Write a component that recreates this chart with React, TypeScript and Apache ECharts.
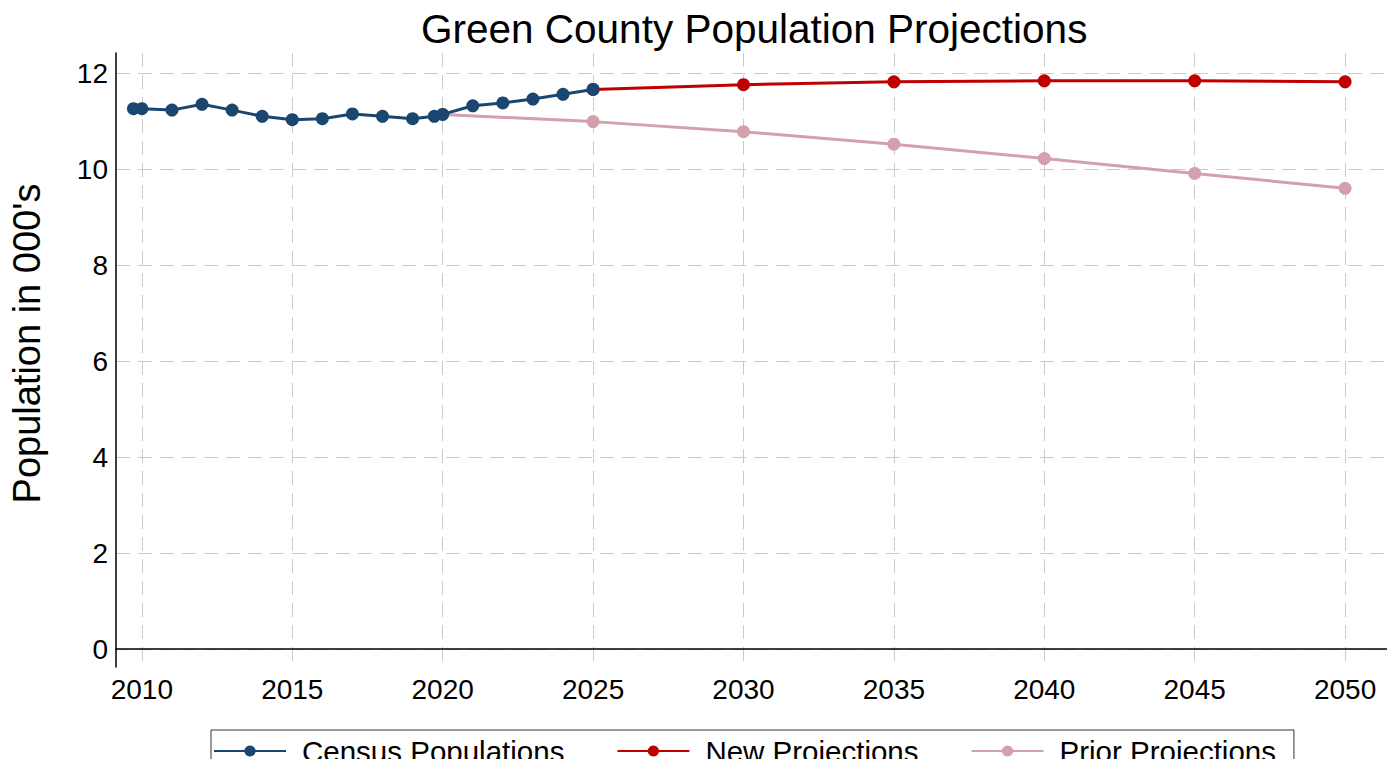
import React, { useEffect, useRef } from "react";
import * as echarts from "echarts";

const censusYears = [2009.72, 2010, 2011, 2012, 2013, 2014, 2015, 2016, 2017, 2018, 2019, 2019.72, 2020, 2021, 2022, 2023, 2024, 2025];
const censusValues = [11.26, 11.26, 11.23, 11.35, 11.23, 11.1, 11.03, 11.05, 11.15, 11.1, 11.05, 11.1, 11.14, 11.32, 11.38, 11.46, 11.56, 11.66];

const newYears = [2025, 2030, 2035, 2040, 2045, 2050];
const newValues = [11.66, 11.76, 11.82, 11.84, 11.84, 11.82];

const priorYears = [2020, 2025, 2030, 2035, 2040, 2045, 2050];
const priorValues = [11.14, 10.99, 10.78, 10.52, 10.22, 9.91, 9.6];

const xTicks = [2010, 2015, 2020, 2025, 2030, 2035, 2040, 2045, 2050];
const yTicks = [0, 2, 4, 6, 8, 10, 12];

const NAVY = "#1a476f";
const RED = "#c00000";
const PINK = "#d3a0ac";
const FONT = "'Liberation Sans', Arial, sans-serif";

const pair = (xs: number[], ys: number[]) => xs.map((x, i) => [x, ys[i]]);

export default function App() {
  const ref = useRef<HTMLDivElement>(null);
  useEffect(() => {
    if (!ref.current) return;
    const chart = echarts.init(ref.current, null, { renderer: "svg" });
    const grid = { type: [14, 8], color: "#cbcbcb", width: 1 };
    chart.setOption({
      animation: false,
      backgroundColor: "#ffffff",
      textStyle: { fontFamily: FONT },
      title: {
        text: "Green County Population Projections",
        left: 416,
        top: 3,
        textStyle: { fontFamily: FONT, fontSize: 40.5, fontWeight: "normal", color: "#000" },
      },
      legend: {
        data: ["Census Populations", "New Projections", "Prior Projections"],
        left: 211,
        top: 730,
        padding: [6, 18, 14, 2],
        itemGap: 52,
        itemWidth: 72,
        itemHeight: 14,
        borderColor: "#333",
        borderWidth: 1,
        textStyle: { fontFamily: FONT, fontSize: 29.5, color: "#000", padding: [0, 0, 0, 11] },
      },
      grid: { left: 115, right: 6, top: 53, bottom: 100, containLabel: false },
      xAxis: {
        type: "value",
        min: 2009.14,
        max: 2051.46,
        axisLine: { show: true, lineStyle: { color: "#000", width: 1.5 } },
        axisTick: { show: false, customValues: xTicks },
        axisLabel: {
          customValues: xTicks,
          formatter: (v: number) => String(Math.round(v)),
          fontFamily: FONT,
          fontSize: 28,
          color: "#000",
          margin: 8,
        },
        splitLine: { show: true, lineStyle: grid },
      },
      yAxis: {
        type: "value",
        min: -0.375,
        max: 12.42,
        name: "Population in 000's",
        nameLocation: "middle",
        nameGap: 70,
        nameTextStyle: { fontFamily: FONT, fontSize: 38, color: "#000", padding: [0, 0, 0, 33] },
        axisLine: { show: true, lineStyle: { color: "#000", width: 1.5 } },
        axisTick: { show: false, customValues: yTicks },
        axisLabel: {
          customValues: yTicks,
          fontFamily: FONT,
          fontSize: 28,
          color: "#000",
          margin: 8,
        },
        splitLine: { show: true, lineStyle: grid },
      },
      series: [
        {
          name: "Prior Projections",
          type: "line",
          data: pair(priorYears, priorValues),
          symbol: "circle",
          symbolSize: 13,
          itemStyle: { color: PINK },
          lineStyle: { color: PINK, width: 3 },
          z: 2,
        },
        {
          name: "New Projections",
          type: "line",
          data: pair(newYears, newValues),
          symbol: "circle",
          symbolSize: 13,
          itemStyle: { color: RED },
          lineStyle: { color: RED, width: 3 },
          z: 3,
        },
        {
          name: "Census Populations",
          type: "line",
          data: pair(censusYears, censusValues),
          symbol: "circle",
          symbolSize: 13,
          itemStyle: { color: NAVY },
          lineStyle: { color: NAVY, width: 3 },
          z: 4,
        },
      ],
    });
    return () => chart.dispose();
  }, []);
  return <div ref={ref} style={{ width: 1395, height: 767, margin: -8 }} />;
}
